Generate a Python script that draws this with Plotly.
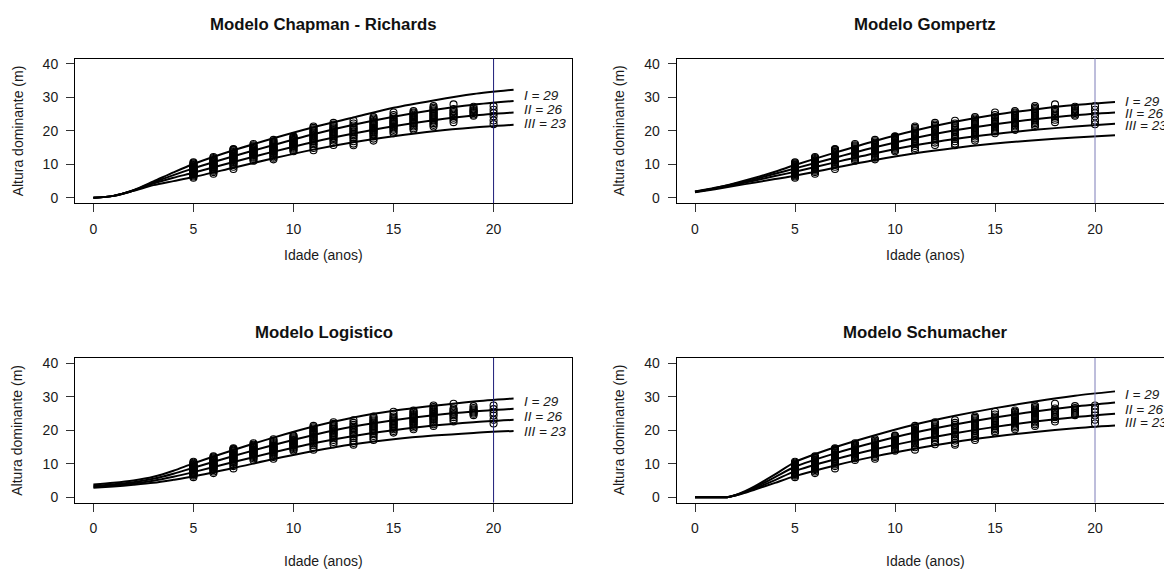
import plotly.graph_objects as go

W, H = 1164, 572

# ---------------- observed data (same in every panel) ----------------
obs_ages = [5, 6, 7, 8, 9, 10, 11, 12, 13, 14, 15, 16, 17, 18, 19, 20]
obs_heights = [
    [6.0, 6.4, 6.7, 6.9, 7.1, 7.3, 7.4, 7.6, 7.7, 7.9, 8.0, 8.2, 8.3, 8.5, 8.6, 8.8, 8.9, 9.1, 9.2, 9.4, 9.6, 9.8, 10.0, 10.3, 10.6],
    [7.2, 7.7, 8.1, 8.4, 8.6, 8.8, 9.0, 9.2, 9.4, 9.6, 9.7, 9.9, 10.1, 10.3, 10.5, 10.7, 10.9, 11.1, 11.3, 11.6, 11.9, 12.2],
    [8.6, 9.3, 9.8, 10.2, 10.5, 10.8, 11.0, 11.3, 11.5, 11.8, 12.0, 12.2, 12.5, 12.7, 12.9, 13.2, 13.4, 13.7, 13.9, 14.2, 14.4, 14.6],
    [11.1, 11.6, 12.0, 12.3, 12.6, 12.8, 13.0, 13.2, 13.4, 13.6, 13.8, 14.0, 14.2, 14.4, 14.6, 14.8, 15.1, 15.4, 15.7, 16.1],
    [11.5, 12.0, 12.4, 12.8, 13.1, 13.4, 13.7, 13.9, 14.1, 14.3, 14.5, 14.7, 14.9, 15.1, 15.3, 15.6, 15.9, 16.2, 16.5, 16.9, 17.3],
    [13.9, 14.3, 14.7, 15.0, 15.3, 15.5, 15.7, 15.9, 16.1, 16.3, 16.5, 16.7, 16.9, 17.1, 17.3, 17.6, 17.9, 18.2, 18.4],
    [14.2, 14.9, 15.5, 16.0, 16.4, 16.8, 17.1, 17.4, 17.7, 18.0, 18.3, 18.6, 18.9, 19.2, 19.5, 19.8, 20.1, 20.5, 20.9, 21.3],
    [15.8, 16.5, 17.1, 17.6, 18.0, 18.4, 18.7, 19.0, 19.3, 19.6, 19.9, 20.2, 20.5, 20.8, 21.1, 21.5, 21.9, 22.4],
    [15.7, 16.2, 16.9, 17.6, 18.2, 18.7, 19.1, 19.5, 19.9, 20.3, 20.7, 21.1, 21.6, 22.2, 23.0],
    [17.1, 17.7, 18.3, 18.8, 19.2, 19.6, 19.9, 20.2, 20.5, 20.8, 21.1, 21.4, 21.7, 22.0, 22.3, 22.6, 22.9, 23.3, 23.7, 24.1],
    [19.3, 19.8, 20.3, 20.7, 21.1, 21.4, 21.7, 22.0, 22.3, 22.6, 22.9, 23.2, 23.6, 24.1, 24.7, 25.5],
    [20.3, 20.8, 21.3, 21.7, 22.1, 22.4, 22.7, 23.0, 23.3, 23.6, 23.9, 24.2, 24.5, 24.8, 25.2, 25.5, 25.9],
    [21.3, 21.8, 22.3, 22.7, 23.1, 23.4, 23.7, 24.0, 24.3, 24.6, 24.9, 25.2, 25.5, 25.8, 26.1, 26.5, 26.9, 27.4],
    [22.6, 23.3, 23.9, 24.4, 24.8, 25.2, 25.6, 26.0, 26.5, 27.9],
    [24.5, 24.9, 25.3, 25.6, 25.9, 26.2, 26.6, 27.2],
    [22.0, 23.1, 24.4, 25.3, 26.3, 27.4],
]

# ---------------- site-index curves ----------------
std_ages = [0, 1, 2, 3, 4, 5, 7, 9, 11, 13, 15, 17, 19, 21]

cr_I   = [0, 0.6, 2.3, 4.9, 7.6, 10.1, 14.2, 17.8, 21.1, 24.0, 26.9, 29.1, 31.0, 32.3]
cr_II  = [0, 0.6, 2.2, 4.6, 6.8, 8.8, 12.4, 15.8, 19.0, 21.8, 24.2, 26.2, 27.8, 28.9]
cr_III = [0, 0.6, 2.2, 4.3, 6.0, 7.5, 10.7, 13.8, 16.7, 19.2, 21.4, 23.2, 24.6, 25.5]
cr_IV  = [0, 0.6, 2.1, 3.8, 5.0, 6.2, 9.0, 11.8, 14.4, 16.6, 18.4, 19.9, 21.0, 21.8]

go_I   = [1.9, 3.0, 4.4, 6.0, 7.8, 9.8, 13.5, 17.0, 20.1, 22.7, 24.8, 26.4, 27.7, 28.6]
go_II  = [1.8, 2.9, 4.2, 5.6, 7.2, 8.8, 12.0, 15.1, 17.9, 20.2, 22.0, 23.5, 24.7, 25.5]
go_III = [1.8, 2.8, 3.9, 5.2, 6.5, 7.8, 10.6, 13.3, 15.7, 17.6, 19.1, 20.3, 21.3, 22.1]
go_IV  = [1.7, 2.6, 3.6, 4.6, 5.6, 6.6, 9.0, 11.3, 13.3, 14.9, 16.2, 17.2, 18.0, 18.7]

lo_I   = [3.8, 4.3, 5.0, 6.1, 7.9, 10.1, 14.1, 17.8, 21.1, 23.8, 25.8, 27.3, 28.6, 29.5]
lo_II  = [3.4, 3.9, 4.5, 5.5, 7.0, 8.8, 12.3, 15.6, 18.6, 21.1, 23.0, 24.5, 25.6, 26.4]
lo_III = [3.1, 3.5, 4.1, 4.9, 6.1, 7.5, 10.5, 13.4, 16.1, 18.3, 20.0, 21.4, 22.4, 23.1]
lo_IV  = [2.8, 3.2, 3.7, 4.3, 5.2, 6.2, 8.7, 11.4, 13.8, 15.8, 17.3, 18.4, 19.2, 19.8]

sc_ages = [0, 1, 1.6, 2, 2.5, 3, 4, 5, 7, 9, 11, 13, 15, 17, 19, 21]
sc_I   = [0, 0, 0.0, 0.6, 1.8, 3.3, 6.8, 10.5, 14.9, 18.5, 21.7, 24.3, 26.6, 28.6, 30.3, 31.6]
sc_II  = [0, 0, 0.0, 0.6, 1.6, 2.9, 6.0, 9.1, 13.1, 16.4, 19.3, 21.7, 23.8, 25.6, 27.1, 28.3]
sc_III = [0, 0, 0.0, 0.5, 1.5, 2.6, 5.1, 7.8, 11.3, 14.3, 16.9, 19.1, 21.0, 22.6, 23.9, 24.9]
sc_IV  = [0, 0, 0.0, 0.5, 1.3, 2.3, 4.3, 6.3, 9.5, 12.2, 14.5, 16.5, 18.1, 19.5, 20.6, 21.4]

site_labels = ["I = 29", "II = 26", "III = 23"]
cr_label_y = [30.7, 26.4, 22.3]
go_label_y = [28.8, 25.3, 21.7]
lo_label_y = [28.7, 24.2, 19.6]
sc_label_y = [30.6, 26.2, 22.3]

x_ticks = [0, 5, 10, 15, 20]
y_ticks = [0, 10, 20, 30, 40]
x_title = "Idade (anos)"
y_title = "Altura dominante (m)"

# ---------------- layout geometry (pixels) ----------------
FONT = "Liberation Sans, Arial, Helvetica, sans-serif"
left_px = (75, 572)
right_px = (676.6, 1164)
top_px = (56, 202)
bot_px = (358, 504)
x_range_full = [-0.92, 23.92]
x_range_right = [-0.92, -0.92 + (1164 - 676.6) / 20.0]
y_range = [-1.6, 41.6]


def xd(p):
    return [p[0] / W, min(1.0, p[1] / W)]


def yd(p):
    return [1 - p[1] / H, 1 - p[0] / H]


panels = [
    dict(title="Modelo Chapman - Richards", ages=std_ages, curves=[cr_I, cr_II, cr_III, cr_IV],
         laby=cr_label_y, xp=left_px, yp=top_px, xr=x_range_full, vcol="#1c1c78", right=False,
         title_y=22, xlab_y=254),
    dict(title="Modelo Gompertz", ages=std_ages, curves=[go_I, go_II, go_III, go_IV],
         laby=go_label_y, xp=right_px, yp=top_px, xr=x_range_right, vcol="#7c7cb8", right=True,
         title_y=22, xlab_y=254),
    dict(title="Modelo Logistico", ages=std_ages, curves=[lo_I, lo_II, lo_III, lo_IV],
         laby=lo_label_y, xp=left_px, yp=bot_px, xr=x_range_full, vcol="#1c1c78", right=False,
         title_y=332, xlab_y=563),
    dict(title="Modelo Schumacher", ages=sc_ages, curves=[sc_I, sc_II, sc_III, sc_IV],
         laby=sc_label_y, xp=right_px, yp=bot_px, xr=x_range_right, vcol="#7c7cb8", right=True,
         title_y=332, xlab_y=563),
]

obs_x = []
obs_y = []
for a, hs in zip(obs_ages, obs_heights):
    for h in hs:
        obs_x.append(a)
        obs_y.append(h)

fig = go.Figure()
annotations = []
shapes = []
layout_axes = {}
tick_font = dict(family=FONT, size=14, color="#1a1a1a")

for i, p in enumerate(panels):
    sfx = "" if i == 0 else str(i + 1)
    xa, ya = "x" + sfx, "y" + sfx
    fig.add_trace(go.Scatter(
        x=obs_x, y=obs_y, mode="markers", xaxis=xa, yaxis=ya, showlegend=False, hoverinfo="skip",
        marker=dict(symbol="circle-open", size=7, color="black", line=dict(width=1.1, color="black"))))
    for c in p["curves"]:
        fig.add_trace(go.Scatter(
            x=p["ages"], y=c, mode="lines", xaxis=xa, yaxis=ya, showlegend=False, hoverinfo="skip",
            line=dict(color="black", width=2, shape="spline", smoothing=0.8)))
    for lab, ly in zip(site_labels, p["laby"]):
        annotations.append(dict(x=21.4, y=ly, xref=xa, yref=ya, text=lab, showarrow=False,
                                xanchor="left", yanchor="middle",
                                font=dict(family=FONT, size=13.5, color="#1a1a1a", style="italic")))
    shapes.append(dict(type="line", x0=20, x1=20, y0=0, y1=1, xref=xa, yref=ya + " domain",
                       line=dict(color=p["vcol"], width=1), layer="above"))

    xdom = xd(p["xp"])
    ydom = yd(p["yp"])
    xc_px = (p["xp"][0] + (p["xp"][0] + 497.2)) / 2.0
    layout_axes["xaxis" + sfx] = dict(
        domain=xdom, range=p["xr"], anchor=ya, showline=True, linecolor="black", linewidth=1,
        mirror=True, ticks="outside", ticklen=8, tickwidth=1, tickcolor="#333333",
        tickvals=x_ticks, showgrid=False, zeroline=False, tickfont=tick_font,
        ticklabelstandoff=5, fixedrange=True)
    layout_axes["yaxis" + sfx] = dict(
        domain=ydom, range=y_range, anchor=xa, showline=True, linecolor="black", linewidth=1,
        mirror=(not p["right"]), ticks="outside", ticklen=8, tickwidth=1, tickcolor="#333333",
        tickvals=y_ticks, showgrid=False, zeroline=False, tickfont=tick_font,
        ticklabelstandoff=5, fixedrange=True)

    annotations.append(dict(x=xc_px / W, y=1 - p["title_y"] / H, xref="paper", yref="paper",
                            text="<b>" + p["title"] + "</b>", showarrow=False,
                            xanchor="center", yanchor="middle",
                            font=dict(family=FONT, size=16.8, color="#111111")))
    annotations.append(dict(x=xc_px / W, y=1 - p["xlab_y"] / H, xref="paper", yref="paper",
                            text=x_title, showarrow=False, xanchor="center", yanchor="middle",
                            font=dict(family=FONT, size=14, color="#1a1a1a")))
    ylab_x = p["xp"][0] - 57.5
    annotations.append(dict(x=ylab_x / W, y=1 - (p["yp"][0] + p["yp"][1]) / 2.0 / H,
                            xref="paper", yref="paper", text=y_title, showarrow=False,
                            textangle=-90, xanchor="center", yanchor="middle",
                            font=dict(family=FONT, size=14, color="#1a1a1a")))

fig.update_layout(
    width=W, height=H, margin=dict(l=0, r=0, t=0, b=0),
    paper_bgcolor="white", plot_bgcolor="white",
    showlegend=False, annotations=annotations, shapes=shapes,
    **layout_axes,
)

fig.write_html("out.html", config={"displayModeBar": False},
               post_script="document.body.style.margin='0px';document.body.style.overflow='hidden';")
